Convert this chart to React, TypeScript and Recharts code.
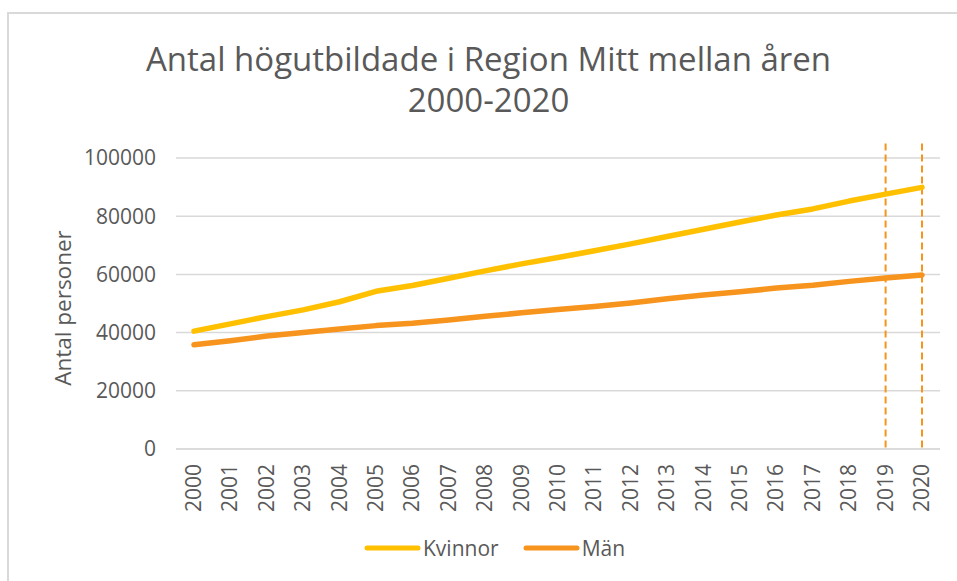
import { LineChart, Line, XAxis, YAxis, CartesianGrid, ReferenceLine, Legend } from "recharts";

const years = [
  "2000", "2001", "2002", "2003", "2004", "2005", "2006", "2007", "2008", "2009", "2010",
  "2011", "2012", "2013", "2014", "2015", "2016", "2017", "2018", "2019", "2020",
];
const kvinnor = [
  40500, 43000, 45500, 47800, 50600, 54200, 56200, 58700, 61200, 63600, 65800,
  68100, 70500, 73000, 75500, 78000, 80400, 82500, 85200, 87600, 89900,
];
const man = [
  35800, 37200, 38800, 40000, 41200, 42400, 43200, 44300, 45600, 46800, 47900,
  49000, 50200, 51600, 52900, 54000, 55300, 56300, 57600, 58800, 59800,
];
const yTicks = [0, 20000, 40000, 60000, 80000, 100000];
const markedYears = ["2019", "2020"];

const data = years.map((year, i) => ({ year, Kvinnor: kvinnor[i], "Män": man[i] }));

const FONT = "'Open Sans', sans-serif";
const TEXT = "#595959";
const YELLOW = "#FFC000";
const ORANGE = "#F7941D";

function YearTick(props: any) {
  const { x, y, payload } = props;
  const tx = x + 7;
  const ty = y + 13;
  return (
    <text
      x={tx}
      y={ty}
      transform={`rotate(-90, ${tx}, ${ty})`}
      textAnchor="end"
      fill={TEXT}
      fontSize={21}
      fontFamily={FONT}
    >
      {payload.value}
    </text>
  );
}

function LegendContent() {
  const items = [
    { name: "Kvinnor", color: YELLOW },
    { name: "Män", color: ORANGE },
  ];
  return (
    <div style={{ display: "flex", alignItems: "center", gap: 6, paddingLeft: 364 }}>
      {items.map((it) => (
        <div key={it.name} style={{ display: "flex", alignItems: "center", marginRight: 18 }}>
          <svg width={57} height={10}>
            <line x1={3} y1={5} x2={54} y2={5} stroke={it.color} strokeWidth={5} strokeLinecap="round" />
          </svg>
          <span style={{ fontFamily: FONT, fontSize: 21, color: TEXT, marginLeft: 2 }}>{it.name}</span>
        </div>
      ))}
    </div>
  );
}

export default function App() {
  return (
    <div style={{ position: "absolute", left: 0, top: 0, width: 957, height: 581, overflow: "hidden", background: "#fff" }}>
      <div
        style={{
          position: "absolute",
          left: 7,
          top: 12,
          width: 980,
          height: 600,
          border: "2px solid #D9D9D9",
        }}
      />
      <div
        style={{
          position: "absolute",
          left: 0,
          top: 38,
          width: 977,
          textAlign: "center",
          fontFamily: FONT,
          fontSize: 33,
          lineHeight: "41px",
          color: TEXT,
        }}
      >
        Antal högutbildade i Region Mitt mellan åren
        <br />
        2000-2020
      </div>
      <div style={{ position: "absolute", left: 0, top: 0 }}>
        <LineChart width={957} height={581} data={data} margin={{ top: 158, right: 17, bottom: 0, left: 0 }}>
          <CartesianGrid vertical={false} stroke="#D9D9D9" strokeWidth={1.5} />
          <XAxis
            dataKey="year"
            interval={0}
            height={102}
            padding={{ left: 18, right: 18 }}
            tickLine={false}
            tickSize={0}
            axisLine={{ stroke: "#D9D9D9", strokeWidth: 1.5 }}
            tick={<YearTick />}
          />
          <YAxis
            domain={[0, 100000]}
            ticks={yTicks}
            width={176}
            tickLine={false}
            axisLine={false}
            tickSize={0}
            tickMargin={20}
            tick={{ fill: TEXT, fontSize: 21, fontFamily: FONT }}
            label={{
              content: () => (
                <text
                  x={62}
                  y={308}
                  transform="rotate(-90, 62, 308)"
                  textAnchor="middle"
                  dominantBaseline="central"
                  fill={TEXT}
                  fontSize={22.5}
                  fontFamily={FONT}
                >
                  Antal personer
                </text>
              ),
            }}
          />
          <Legend
            verticalAlign="bottom"
            content={<LegendContent />}
            wrapperStyle={{ position: "absolute", left: 0, top: 534, bottom: "auto", width: 957, height: 30 }}
          />
          {markedYears.map((yr) => (
            <ReferenceLine
              key={yr}
              segment={[
                { x: yr, y: 105000 },
                { x: yr, y: 0 },
              ]}
              ifOverflow="visible"
              stroke={ORANGE}
              strokeWidth={2}
              strokeDasharray="7 4"
            />
          ))}
          <Line
            type="linear"
            dataKey="Kvinnor"
            stroke={YELLOW}
            strokeWidth={5.5}
            strokeLinecap="round"
            strokeLinejoin="round"
            dot={false}
            isAnimationActive={false}
          />
          <Line
            type="linear"
            dataKey="Män"
            stroke={ORANGE}
            strokeWidth={5.5}
            strokeLinecap="round"
            strokeLinejoin="round"
            dot={false}
            isAnimationActive={false}
          />
        </LineChart>
      </div>
    </div>
  );
}
